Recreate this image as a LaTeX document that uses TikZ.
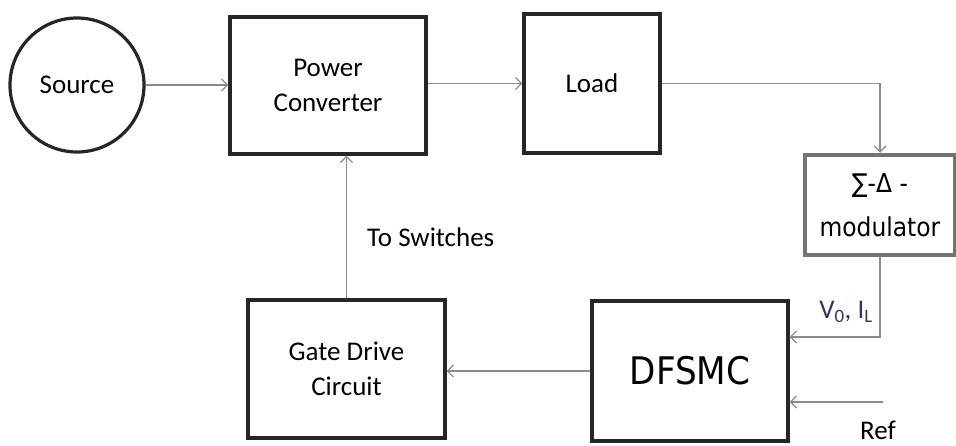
\documentclass[tikz,border=0pt]{standalone}
\usepackage{fontspec}
\setmainfont{Carlito}
\newfontfamily\dejavu{DejaVu Sans}
\newfontfamily\dejavucond{DejaVu Sans Condensed}
\usetikzlibrary{arrows.meta}
\begin{document}
\begin{tikzpicture}[x=1pt,y=-1pt,
  blk/.style={draw=black!85,line width=3.2pt,align=center,font=\fontsize{27}{35}\selectfont,inner sep=0pt},
  conn/.style={draw=black!45,line width=1.8pt,-{Straight Barb[length=6pt,width=12pt,line width=1.3pt]}},
  lbl/.style={font=\fontsize{27}{30}\selectfont,inner sep=0pt}]
            \useasboundingbox (0,0) rectangle (956,445);
            \node[blk,circle,minimum size=134pt] (src) at (77,85) {Source};
            \node[blk,minimum width=196pt,minimum height=137pt] (pc) at (328,85.5) {Power\\Converter};
            \node[blk,minimum width=136pt,minimum height=139pt] (load) at (592,83.5) {Load};
            \node[blk,draw=black!55,line width=4.5pt,minimum width=150pt,minimum height=100pt,font=\dejavucond\fontsize{26}{44}\selectfont] (mod) at (880,205) {∑-Δ -\\modulator};
            \node[blk,minimum width=196pt,minimum height=140pt,font=\dejavucond\fontsize{38}{40}\selectfont] (dfsmc) at (690,371) {DFSMC};
            \node[blk,minimum width=197pt,minimum height=138pt] (gate) at (346.5,369) {Gate Drive\\Circuit};
            \coordinate (ref) at (883,402);
            \draw[conn] (src) -- (pc.west |- src);
            \draw[conn] (pc.east |- load) -- (load);
            \draw[conn] (load.east) -| (mod.north);
            \draw[conn] (mod.south) |- ([yshift=34pt]dfsmc.east);
            \draw[conn] (ref) -- (ref -| dfsmc.east);
            \draw[conn] (dfsmc.west) -- (dfsmc.west -| gate.east);
            \draw[conn] (gate.north) -- (gate.north |- pc.south);
            \node[lbl,anchor=west] (sw) at (367,237) {To Switches};
            \node[lbl,text=blue!20!black!80] (vi) at (846,312) {V\textsubscript{0}, I\textsubscript{L}};
            \node[lbl] (reflbl) at (878,430) {Ref};
            \end{tikzpicture}
\end{document}
